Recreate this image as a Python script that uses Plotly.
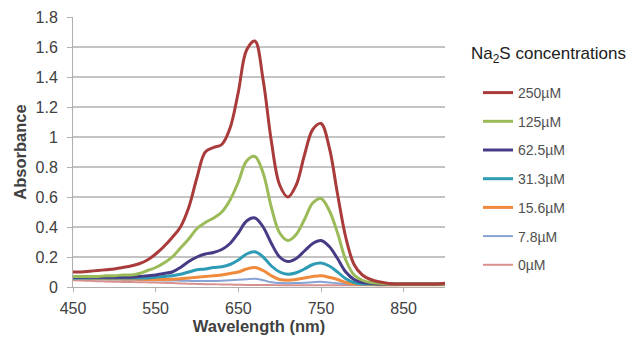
import plotly.graph_objects as go

wavelength = list(range(450, 901, 10))

labels = ["250µM", "125µM", "62.5µM", "31.3µM", "15.6µM", "7.8µM", "0µM"]

abs_250 = [0.10, 0.10, 0.105, 0.11, 0.115, 0.12, 0.13, 0.14, 0.155, 0.18,
           0.22, 0.27, 0.33, 0.40, 0.53, 0.73, 0.90, 0.93, 0.95, 1.06,
           1.30, 1.58, 1.64, 1.38, 0.97, 0.68, 0.60, 0.68, 0.88, 1.05,
           1.09, 0.93, 0.62, 0.33, 0.15, 0.08, 0.05, 0.035, 0.025, 0.02,
           0.02, 0.02, 0.02, 0.02, 0.02, 0.025]
abs_125 = [0.07, 0.07, 0.07, 0.07, 0.075, 0.075, 0.08, 0.08, 0.09, 0.11,
           0.13, 0.16, 0.20, 0.26, 0.32, 0.39, 0.43, 0.46, 0.50, 0.58,
           0.70, 0.84, 0.87, 0.76, 0.53, 0.36, 0.31, 0.35, 0.45, 0.56,
           0.59, 0.51, 0.36, 0.18, 0.08, 0.045, 0.03, 0.025, 0.02, 0.02,
           0.02, 0.02, 0.02, 0.02, 0.02, 0.02]
abs_62 = [0.065, 0.065, 0.065, 0.065, 0.065, 0.065, 0.065, 0.065, 0.07, 0.075,
          0.08, 0.09, 0.10, 0.13, 0.17, 0.20, 0.22, 0.23, 0.25, 0.29,
          0.36, 0.44, 0.46, 0.40, 0.29, 0.20, 0.17, 0.19, 0.24, 0.29,
          0.31, 0.27, 0.19, 0.10, 0.05, 0.03, 0.025, 0.02, 0.02, 0.02,
          0.02, 0.02, 0.02, 0.02, 0.02, 0.02]
abs_31 = [0.06, 0.06, 0.06, 0.06, 0.06, 0.06, 0.06, 0.06, 0.06, 0.06,
          0.065, 0.07, 0.075, 0.085, 0.10, 0.115, 0.12, 0.13, 0.135, 0.15,
          0.18, 0.22, 0.235, 0.20, 0.14, 0.10, 0.085, 0.095, 0.12, 0.15,
          0.16, 0.14, 0.10, 0.055, 0.03, 0.02, 0.02, 0.02, 0.02, 0.02,
          0.02, 0.02, 0.02, 0.02, 0.02, 0.02]
abs_15 = [0.06, 0.06, 0.058, 0.056, 0.055, 0.055, 0.054, 0.053, 0.052, 0.05,
          0.05, 0.05, 0.052, 0.055, 0.06, 0.065, 0.07, 0.075, 0.08, 0.09,
          0.10, 0.12, 0.13, 0.11, 0.075, 0.05, 0.045, 0.05, 0.06, 0.07,
          0.075, 0.065, 0.05, 0.03, 0.02, 0.018, 0.016, 0.015, 0.015, 0.015,
          0.015, 0.015, 0.015, 0.015, 0.015, 0.015]
abs_7 = [0.055, 0.054, 0.053, 0.052, 0.051, 0.05, 0.049, 0.048, 0.047, 0.046,
         0.045, 0.044, 0.043, 0.042, 0.041, 0.04, 0.04, 0.04, 0.042, 0.045,
         0.048, 0.052, 0.055, 0.045, 0.032, 0.026, 0.025, 0.026, 0.028, 0.032,
         0.035, 0.03, 0.025, 0.02, 0.016, 0.015, 0.015, 0.015, 0.015, 0.015,
         0.015, 0.015, 0.015, 0.015, 0.015, 0.015]
abs_0 = [0.045, 0.043, 0.041, 0.039, 0.037, 0.035, 0.034, 0.033, 0.032, 0.031,
         0.03, 0.028, 0.026, 0.024, 0.022, 0.02, 0.019, 0.018, 0.017, 0.016,
         0.015, 0.014, 0.014, 0.013, 0.013, 0.012, 0.012, 0.012, 0.012, 0.012,
         0.012, 0.012, 0.012, 0.012, 0.012, 0.012, 0.012, 0.012, 0.012, 0.012,
         0.013, 0.013, 0.014, 0.014, 0.015, 0.015]

series = [abs_250, abs_125, abs_62, abs_31, abs_15, abs_7, abs_0]
colors = ["#A93B3B", "#9BBB59", "#463C86", "#2E9BB4", "#F08A3C", "#86A3D3", "#D9918E"]
widths = [3, 3, 3, 3, 3, 2, 2]

x_ticks = [450, 550, 650, 750, 850]
y_ticks = [0, 0.2, 0.4, 0.6, 0.8, 1.0, 1.2, 1.4, 1.6, 1.8]
y_ticktext = ["0", "0.2", "0.4", "0.6", "0.8", "1", "1.2", "1.4", "1.6", "1.8"]

fig = go.Figure()
# draw low concentrations first so high ones are on top
for i in reversed(range(len(series))):
    fig.add_trace(go.Scatter(
        x=wavelength, y=series[i], name=labels[i], mode="lines",
        line=dict(color=colors[i], width=widths[i], shape="spline", smoothing=1.0),
        legendgroup=labels[i], legendrank=i + 1,
    ))

font_family = "Liberation Sans, Arial, sans-serif"

fig.update_layout(
    width=643, height=343,
    margin=dict(l=73, r=198, t=17, b=56),
    paper_bgcolor="white", plot_bgcolor="white",
    font=dict(family=font_family, size=16, color="#404040"),
    xaxis=dict(
        range=[450, 900], tickvals=x_ticks, showgrid=False, zeroline=False,
        showline=True, linecolor="#b0b0b0", linewidth=1,
        ticks="outside", ticklen=4, tickcolor="#b0b0b0",
        ticklabelstandoff=3, automargin=False,
        tickfont=dict(size=16, color="#404040"),
        title=dict(text="<b>Wavelength (nm)</b>", font=dict(size=16.5, color="#404040"), standoff=4),
    ),
    yaxis=dict(
        range=[0, 1.8], tickvals=y_ticks, ticktext=y_ticktext,
        showgrid=True, gridcolor="#c4c4c4", gridwidth=2, zeroline=False,
        showline=True, linecolor="#b0b0b0", linewidth=1,
        ticks="outside", ticklen=5, tickcolor="#b0b0b0",
        ticklabelstandoff=6, automargin=False,
        tickfont=dict(size=16, color="#404040"),
        title=dict(text="<b>Absorbance</b>", font=dict(size=16.5, color="#404040"), standoff=4),
    ),
    legend=dict(
        x=1.0 + (478 - 445) / 372, xanchor="left",
        y=(287 - 77) / 270, yanchor="top",
        font=dict(size=14, color="#505050"),
        tracegroupgap=7.5, itemwidth=30,
        bgcolor="rgba(0,0,0,0)",
    ),
    annotations=[dict(
        text="Na<sub>2</sub>S concentrations", xref="paper", yref="paper",
        x=1.0 + (469 - 445) / 372, y=(287 - 55) / 270, xanchor="left", yanchor="middle",
        showarrow=False, font=dict(size=17, color="#202020", family=font_family),
    )],
)

fig.write_html("out.html")
